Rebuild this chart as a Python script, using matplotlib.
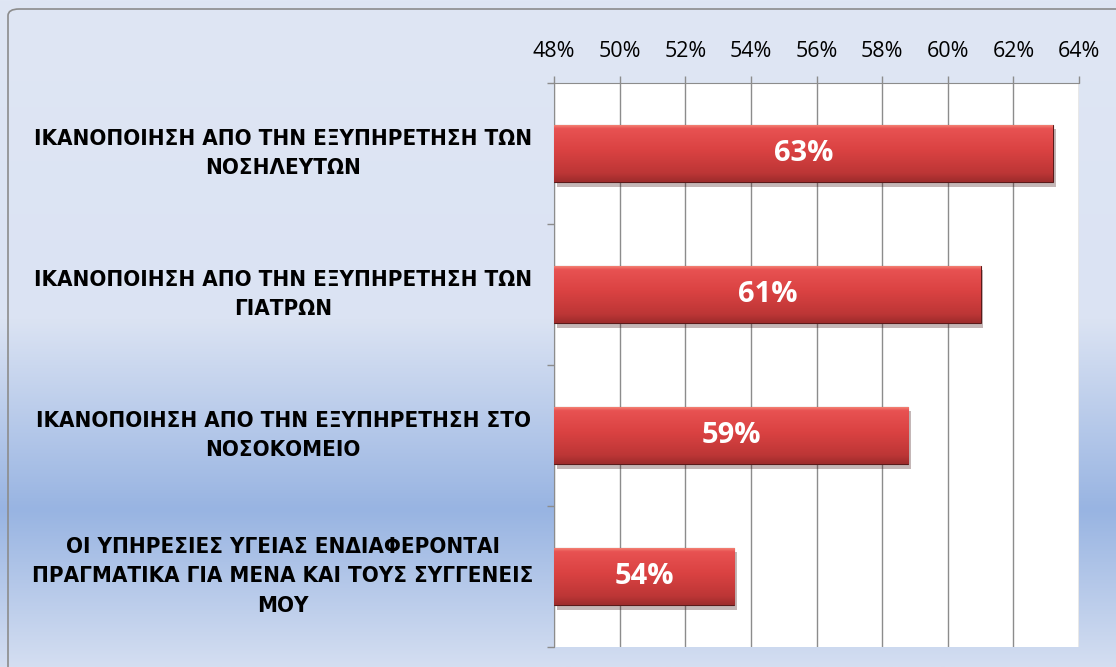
import numpy as np
import matplotlib
matplotlib.use("Agg")
import matplotlib.pyplot as plt
import matplotlib.patheffects as pe
from matplotlib.colors import LinearSegmentedColormap
from matplotlib.patches import FancyBboxPatch
from matplotlib import font_manager

# data
categories = [
    "ΙΚΑΝΟΠΟΙΗΣΗ ΑΠΟ ΤΗΝ ΕΞΥΠΗΡΕΤΗΣΗ ΤΩΝ\nΝΟΣΗΛΕΥΤΩΝ",
    "ΙΚΑΝΟΠΟΙΗΣΗ ΑΠΟ ΤΗΝ ΕΞΥΠΗΡΕΤΗΣΗ ΤΩΝ\nΓΙΑΤΡΩΝ",
    "ΙΚΑΝΟΠΟΙΗΣΗ ΑΠΟ ΤΗΝ ΕΞΥΠΗΡΕΤΗΣΗ ΣΤΟ\nΝΟΣΟΚΟΜΕΙΟ",
    "ΟΙ ΥΠΗΡΕΣΙΕΣ ΥΓΕΙΑΣ ΕΝΔΙΑΦΕΡΟΝΤΑΙ\nΠΡΑΓΜΑΤΙΚΑ ΓΙΑ ΜΕΝΑ ΚΑΙ ΤΟΥΣ ΣΥΓΓΕΝΕΙΣ\nΜΟΥ",
]
values = [63.2, 61.0, 58.8, 53.5]
value_labels = ["63%", "61%", "59%", "54%"]
x_ticks = [48, 50, 52, 54, 56, 58, 60, 62, 64]

available = {f.name for f in font_manager.fontManager.ttflist}
tick_font = "Open Sans" if "Open Sans" in available else "DejaVu Sans"

fig = plt.figure(figsize=(11.16, 6.67), dpi=100)

# background gradient
bg = fig.add_axes([0, 0, 1, 1], zorder=-10)
bg_cmap = LinearSegmentedColormap.from_list(
    "bg", [(0.0, "#dfe6f4"), (0.48, "#dbe3f3"), (0.765, "#98b4e2"), (1.0, "#d4def1")])
bg.imshow(np.linspace(0, 1, 256).reshape(-1, 1), aspect="auto", cmap=bg_cmap,
          extent=[0, 1, 0, 1], origin="upper")
bg.axis("off")
frame = FancyBboxPatch((8 / 1116, -0.05), 1.2, 1.05 - 9 / 667, boxstyle="round,pad=0,rounding_size=0.01",
                       transform=fig.transFigure, facecolor="none", edgecolor="#8c8c8c", lw=1.2)
fig.patches.append(frame)

ax = fig.add_axes([554 / 1116, 1 - 647 / 667, 525 / 1116, 564 / 667])
ax.set_facecolor("white")

y = np.arange(len(values))
bars = ax.barh(y, [v - 48 for v in values], left=48, height=0.41, color="#cf3b3b",
               edgecolor="#5a1a1a", linewidth=0.8, zorder=3,
               path_effects=[pe.SimplePatchShadow(offset=(2, -3), alpha=0.3), pe.Normal()])

# glossy vertical shading on each bar
shade = LinearSegmentedColormap.from_list(
    "shade", [(0.0, "#f58a7a"), (0.07, "#e85252"), (0.45, "#da4242"), (0.85, "#bd3636"), (1.0, "#9e2c2c")])
for b in bars:
    x0, y0, w, h = b.get_x(), b.get_y(), b.get_width(), b.get_height()
    im = ax.imshow(np.linspace(0, 1, 64).reshape(-1, 1), cmap=shade, aspect="auto",
                   extent=[x0, x0 + w, y0 + h, y0], origin="upper", zorder=3.5)
    im.set_clip_path(b)

for b, lab in zip(bars, value_labels):
    ax.text(b.get_x() + b.get_width() / 2, b.get_y() + b.get_height() / 2, lab,
            ha="center", va="center", color="white", fontsize=21, fontweight="bold",
            family=tick_font, zorder=5)

ax.set_xlim(48, 64)
ax.set_ylim(len(values) - 0.5, -0.5)
ax.set_xticks(x_ticks)
ax.set_xticklabels([f"{t}%" for t in x_ticks], family=tick_font, fontsize=15.5)
ax.xaxis.tick_top()
ax.tick_params(axis="x", length=5, width=1, color="#8c8c8c", pad=10)
ax.grid(axis="x", color="#8c8c8c", lw=1, zorder=0)
ax.set_axisbelow(True)

ax.set_yticks(np.arange(len(values) + 1) - 0.5)
ax.set_yticklabels([])
ax.tick_params(axis="y", length=5, width=1, color="#8c8c8c")

for lab, yy in zip(categories, y):
    ax.text(-0.516, yy, lab, transform=ax.get_yaxis_transform(), ha="center", va="center",
            multialignment="center", fontsize=16, fontweight="bold", family="DejaVu Sans",
            fontstretch="condensed", linespacing=1.6)

for side in ["right", "bottom"]:
    ax.spines[side].set_visible(False)
for side in ["left", "top"]:
    ax.spines[side].set_color("#8c8c8c")

fig.savefig("out.png", dpi=100)
